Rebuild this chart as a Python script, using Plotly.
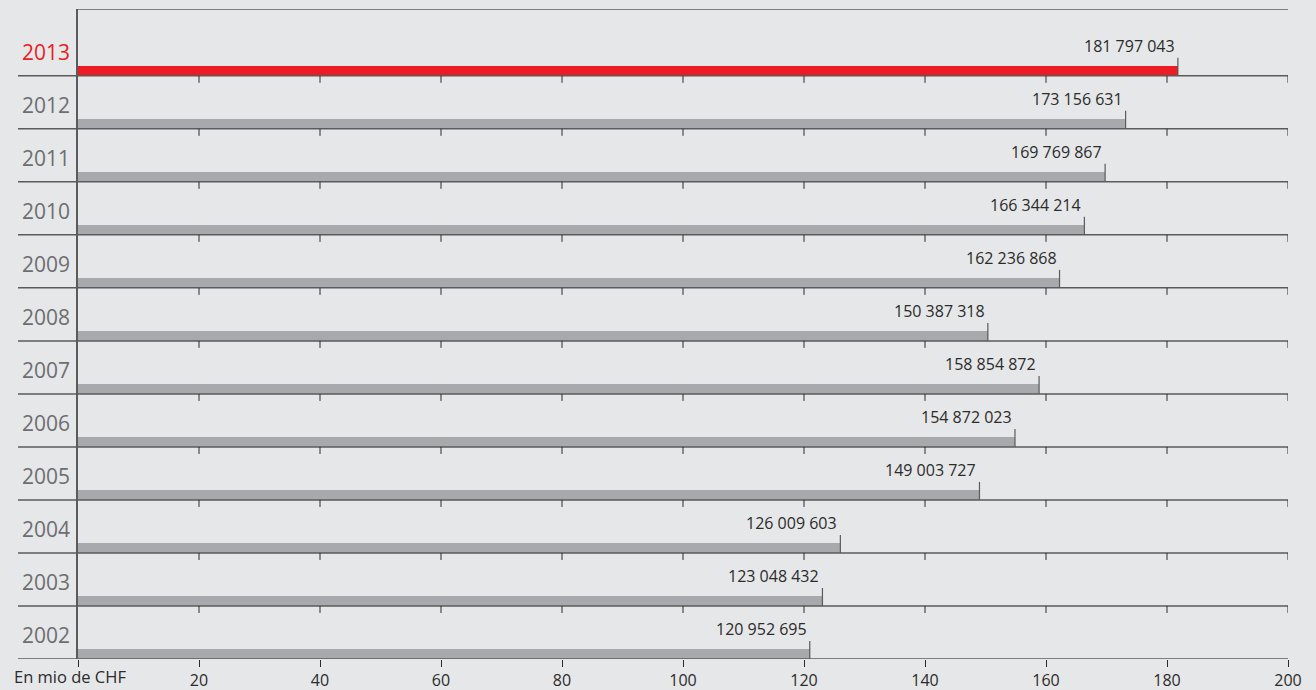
import plotly.graph_objects as go

years = ["2002", "2003", "2004", "2005", "2006", "2007", "2008", "2009", "2010", "2011", "2012", "2013"]
values = [120952695, 123048432, 126009603, 149003727, 154872023, 158854872,
          150387318, 162236868, 166344214, 169769867, 173156631, 181797043]
tick_vals = [0, 20, 40, 60, 80, 100, 120, 140, 160, 180, 200]
tick_text = ["", "20", "40", "60", "80", "100", "120", "140", "160", "180", "200"]
axis_note = "En mio de CHF"

RED = "#ed1c24"
GREY_BAR = "#a7a9ac"
LINE = "#5a5b5d"
DARK = "#2b2b2b"
YEAR_GREY = "#6d6e71"
BG = "#e6e7e8"

W, H = 1316, 690
ML, MR, MT, MB = 78, 28, 9, 31
PW = W - ML - MR
PH = H - MT - MB
YMAX = 12.26
UNIT = PH / YMAX  # px per row unit

n = len(years)
vals_m = [v / 1e6 for v in values]
bar_h = 9.8 / UNIT
colors = [RED if y == "2013" else GREY_BAR for y in years]

fig = go.Figure()
fig.add_trace(go.Bar(
    x=vals_m,
    y=[i + bar_h / 2 for i in range(n)],
    width=bar_h,
    orientation="h",
    marker=dict(color=colors, line=dict(width=0)),
    hoverinfo="skip",
))

shapes = []
# top border
shapes.append(dict(type="line", xref="x", yref="y", x0=0, x1=200, y0=YMAX, y1=YMAX,
                   line=dict(color=LINE, width=1.5)))
# row lines
left_paper = (18 - ML) / PW
for i in range(n):
    shapes.append(dict(type="line", xref="paper", yref="y", x0=left_paper, x1=1, y0=i, y1=i,
                       line=dict(color=LINE, width=1.5)))
# interior ticks
tlen = 7 / UNIT
for i in range(1, n):
    for t in tick_vals[1:]:
        shapes.append(dict(type="line", xref="x", yref="y", x0=t, x1=t, y0=i, y1=i - tlen,
                           line=dict(color=DARK, width=1)))
# value marker lines
mlen = 18 / UNIT
for i, v in enumerate(vals_m):
    shapes.append(dict(type="line", xref="x", yref="y", x0=v, x1=v, y0=i, y1=i + mlen,
                       line=dict(color=LINE, width=1.2)))

annotations = []
for i, (y, v) in enumerate(zip(years, values)):
    s = f"{v:,}".replace(",", " ")
    annotations.append(dict(x=v / 1e6, y=i + 0.56, xref="x", yref="y", text=s,
                            showarrow=False, xanchor="right", yanchor="middle", xshift=-1,
                            font=dict(family="Open Sans", size=16, color=DARK)))
    annotations.append(dict(x=(20 - ML) / PW, y=i + 0.45, xref="paper", yref="y", text=y,
                            showarrow=False, xanchor="left", yanchor="middle",
                            font=dict(family="Open Sans", size=21,
                                      color=RED if y == "2013" else YEAR_GREY)))
annotations.append(dict(x=(12 - ML) / PW, y=-17 / PH, xref="paper", yref="paper", text=axis_note,
                        showarrow=False, xanchor="left", yanchor="middle",
                        font=dict(family="Open Sans", size=16.5, color=DARK)))

fig.update_layout(
    width=W, height=H,
    margin=dict(l=ML, r=MR, t=MT, b=MB, pad=0, autoexpand=False),
    paper_bgcolor=BG, plot_bgcolor=BG,
    showlegend=False,
    shapes=shapes,
    annotations=annotations,
    xaxis=dict(range=[0, 200], tickvals=tick_vals, ticktext=tick_text, ticks="outside",
               ticklen=7, tickwidth=1, tickcolor=DARK, showgrid=False, zeroline=False,
               showline=False, fixedrange=True, automargin=False,
               tickfont=dict(family="Open Sans", size=16, color=DARK)),
    yaxis=dict(range=[0, YMAX], showticklabels=False, ticks="", showgrid=False,
               zeroline=False, showline=True, linecolor=LINE, linewidth=1.5, fixedrange=True,
               automargin=False),
    bargap=0,
)

fig.write_html(
    "out.html",
    config={"displayModeBar": False},
    post_script="document.body.style.margin='0';document.body.style.overflow='hidden';",
)
